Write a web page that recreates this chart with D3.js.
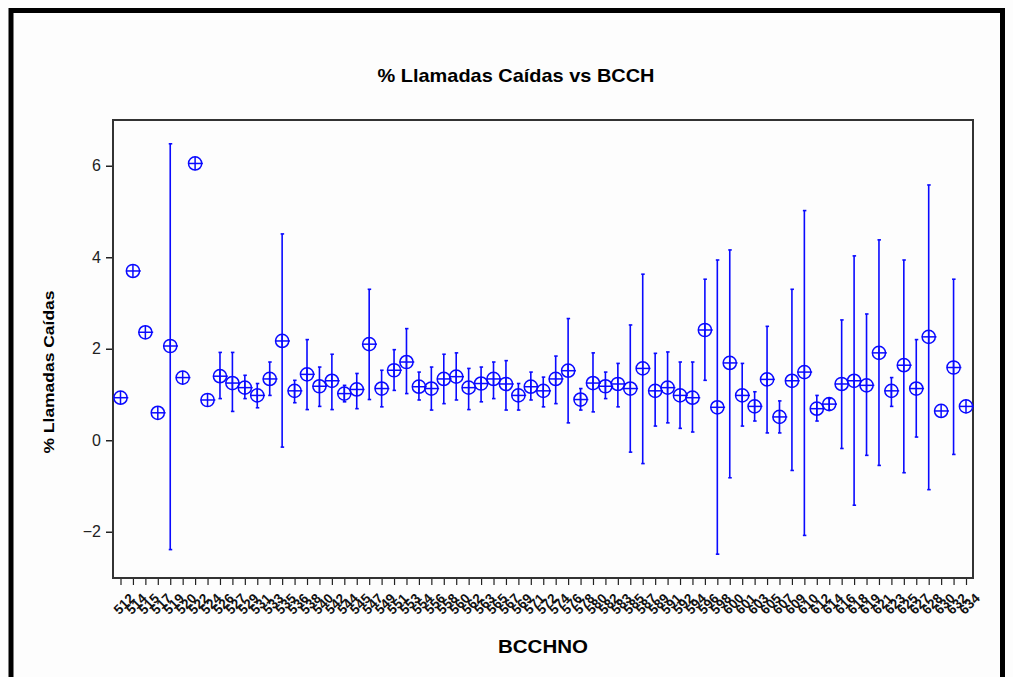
<!DOCTYPE html>
<html><head><meta charset="utf-8">
<script src="https://cdn.jsdelivr.net/npm/d3@7"></script>
<style>body{margin:0;background:#fff;overflow:hidden}</style>
</head><body>
<svg id="c" width="1013" height="677"></svg>
<script>
const bcch = ["512","514","515","517","519","520","522","524","526","527","529","531","533","535","536","538","540","542","544","545","547","549","551","553","554","556","558","560","562","563","565","567","569","571","572","574","576","578","580","582","583","585","587","589","591","592","594","596","598","600","601","603","605","607","609","610","612","614","616","618","619","621","623","625","627","628","630","632","634"];
const means = [0.93,3.70,2.36,0.60,2.06,1.37,6.05,0.88,1.40,1.25,1.15,0.98,1.34,2.17,1.08,1.44,1.18,1.30,1.02,1.11,2.10,1.13,1.53,1.71,1.17,1.13,1.34,1.39,1.15,1.24,1.34,1.23,0.98,1.17,1.08,1.34,1.52,0.89,1.25,1.18,1.23,1.13,1.57,1.08,1.15,0.98,0.93,2.41,0.72,1.69,0.98,0.74,1.33,0.51,1.30,1.49,0.69,0.79,1.23,1.30,1.20,1.91,1.08,1.64,1.13,2.26,0.64,1.59,0.74];
const lowers = [null,null,null,null,-2.39,null,null,null,0.91,0.63,0.91,0.71,0.98,-0.15,0.82,0.67,0.74,0.67,0.84,0.69,0.89,0.73,1.09,1.02,0.88,0.66,0.80,0.88,0.67,0.84,0.91,0.66,0.66,0.88,0.73,0.80,0.38,0.66,0.62,0.91,0.73,-0.26,-0.51,0.31,0.38,0.26,0.18,1.31,-2.49,-0.82,0.31,0.42,0.16,0.16,-0.66,-2.08,0.42,0.66,-0.18,-1.42,-0.33,-0.55,0.74,-0.71,0.07,-1.08,null,-0.31,null];
const uppers = [null,null,null,null,6.48,null,null,null,1.92,1.92,1.42,1.24,1.71,4.51,1.31,2.20,1.60,1.88,1.20,1.46,3.30,1.53,1.98,2.44,1.49,1.60,1.88,1.91,1.57,1.60,1.71,1.74,1.24,1.49,1.38,1.84,2.66,1.13,1.91,1.49,1.68,2.52,3.63,1.90,1.93,1.71,1.71,3.52,3.94,4.16,1.68,1.06,2.49,0.86,3.30,5.02,0.98,0.91,2.63,4.03,2.76,4.38,1.37,3.94,2.20,5.58,null,3.52,null];
const yTicks = [-2,0,2,4,6];

const blue = "#0a0aff";
const svg = d3.select("#c");
svg.append("rect").attr("width",1013).attr("height",677).attr("fill","#fdfdfd");
svg.append("path").attr("d","M11,690 V10.5 H1002.5 V690")
  .attr("fill","none").attr("stroke","#000").attr("stroke-width",5);

const L=113, R=973, T=120, B=578;
const x = d3.scalePoint().domain(bcch).range([120.5, 966]);
const y = d3.scaleLinear().domain([-3,7]).range([577.5,120]);

// title
svg.append("text").attr("x",516).attr("y",82).attr("text-anchor","middle")
  .attr("font-family","Liberation Sans Narrow, Arial Narrow, Liberation Sans, sans-serif")
  .attr("font-weight","bold").attr("font-size",19)
  .attr("textLength",277).attr("lengthAdjust","spacingAndGlyphs")
  .text("% Llamadas Caídas vs BCCH");

// y axis
const ya = svg.append("g").attr("transform",`translate(${L},0)`)
  .call(d3.axisLeft(y).tickValues(yTicks).tickSize(7).tickPadding(5).tickFormat(d3.format("d")));
ya.select(".domain").remove();
ya.selectAll("line").attr("stroke","#222").attr("stroke-width",1.5);
ya.selectAll("text").attr("font-family","Liberation Sans, Arial, sans-serif").attr("font-size",16).attr("fill","#222");

// x axis
const xa = svg.append("g").attr("transform",`translate(0,${B})`)
  .call(d3.axisBottom(x).tickSize(7).tickPadding(2));
xa.select(".domain").remove();
xa.selectAll("line").attr("stroke","#222").attr("stroke-width",1.2);
xa.selectAll("text").attr("font-family","Liberation Sans, Arial, sans-serif")
  .attr("font-weight","bold").attr("font-size",13.5).attr("fill","#111")
  .attr("text-anchor","end").attr("dy","0.3em")
  .attr("transform","translate(5,12) rotate(-45)");

// frame
svg.append("rect").attr("x",L).attr("y",T).attr("width",R-L).attr("height",B-T)
  .attr("fill","none").attr("stroke","#333").attr("stroke-width",2);

// axis titles
svg.append("text").attr("transform","translate(54,372) rotate(-90)").attr("text-anchor","middle")
  .attr("font-family","Liberation Sans, Arial, sans-serif").attr("font-weight","bold").attr("font-size",14)
  .attr("textLength",163).attr("lengthAdjust","spacingAndGlyphs")
  .text("% Llamadas Caídas");
svg.append("text").attr("x",543).attr("y",653).attr("text-anchor","middle")
  .attr("font-family","Liberation Sans, Arial, sans-serif").attr("font-weight","bold").attr("font-size",18)
  .attr("textLength",90).attr("lengthAdjust","spacingAndGlyphs")
  .text("BCCHNO");

// data
const data = bcch.map((b,i)=>({b, m:means[i], lo:lowers[i], hi:uppers[i]}));
const g = svg.append("g");
const eb = data.filter(d=>d.lo!==null);
g.selectAll(".eb").data(eb).join("line").attr("class","eb")
  .attr("x1",d=>x(d.b)).attr("x2",d=>x(d.b)).attr("y1",d=>y(d.lo)).attr("y2",d=>y(d.hi))
  .attr("stroke",blue).attr("stroke-width",1.6);
g.selectAll(".capT").data(eb).join("line").attr("class","capT")
  .attr("x1",d=>x(d.b)-1.5).attr("x2",d=>x(d.b)+2).attr("y1",d=>y(d.hi)).attr("y2",d=>y(d.hi))
  .attr("stroke",blue).attr("stroke-width",1.6);
g.selectAll(".capB").data(eb).join("line").attr("class","capB")
  .attr("x1",d=>x(d.b)-1.5).attr("x2",d=>x(d.b)+2).attr("y1",d=>y(d.lo)).attr("y2",d=>y(d.lo))
  .attr("stroke",blue).attr("stroke-width",1.6);

const mk = g.selectAll(".mk").data(data).join("g").attr("class","mk")
  .attr("transform",d=>`translate(${x(d.b)},${y(d.m)})`);
mk.append("circle").attr("r",6.6).attr("fill","none").attr("stroke",blue).attr("stroke-width",1.5);
mk.append("line").attr("x1",-6.8).attr("x2",7.8).attr("stroke",blue).attr("stroke-width",1.5);
mk.append("line").attr("y1",-6.8).attr("y2",6.8).attr("stroke",blue).attr("stroke-width",1.5);
</script>
</body></html>
